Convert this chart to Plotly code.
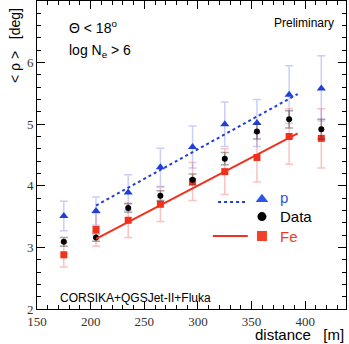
import plotly.graph_objects as go

# ---------------- data ----------------
distance = [175, 205, 235, 265, 295, 325, 355, 385, 415]
p_mean = [3.51, 3.59, 3.89, 4.30, 4.63, 5.00, 5.02, 5.48, 5.58]
p_err = [0.24, 0.23, 0.29, 0.31, 0.34, 0.36, 0.38, 0.47, 0.53]
data_mean = [3.09, 3.16, 3.64, 3.84, 4.10, 4.44, 4.88, 5.08, 4.92]
data_err = [0.07, 0.06, 0.07, 0.08, 0.09, 0.10, 0.12, 0.14, 0.16]
fe_mean = [2.88, 3.29, 3.44, 3.70, 4.07, 4.23, 4.46, 4.80, 4.77]
fe_err = [0.20, 0.27, 0.28, 0.28, 0.31, 0.37, 0.40, 0.45, 0.48]

fit_x = [205, 393]
p_fit = [3.68, 5.49]
fe_fit = [3.14, 4.85]

x_ticks = [150, 200, 250, 300, 350, 400]
y_ticks = [2, 3, 4, 5, 6]

BLUE = "#1f3fd8"
RED = "#f2301e"
SANS = "Liberation Sans, Arial, sans-serif"
SERIF = "Liberation Serif, Times New Roman, serif"

fig = go.Figure()

# error bars + markers
fig.add_trace(go.Scatter(
    x=distance, y=fe_mean, mode="markers",
    marker=dict(symbol="square", size=7, color=RED),
    error_y=dict(type="data", array=fe_err, color="rgba(240,70,70,0.33)", thickness=1.5, width=4),
    showlegend=False))
fig.add_trace(go.Scatter(
    x=distance, y=p_mean, mode="markers",
    marker=dict(symbol="triangle-up", size=8, color=BLUE),
    error_y=dict(type="data", array=p_err, color="rgba(90,110,230,0.33)", thickness=1.5, width=4),
    showlegend=False))
fig.add_trace(go.Scatter(
    x=distance, y=data_mean, mode="markers",
    marker=dict(symbol="circle", size=6, color="black"),
    error_y=dict(type="data", array=data_err, color="rgba(60,60,60,0.45)", thickness=1.5, width=4),
    showlegend=False))

# fit lines
fig.add_trace(go.Scatter(x=fit_x, y=p_fit, mode="lines",
                         line=dict(color=BLUE, width=2, dash="3px,3px"), showlegend=False))
fig.add_trace(go.Scatter(x=fit_x, y=fe_fit, mode="lines",
                         line=dict(color=RED, width=2), showlegend=False))

# hand-made legend on an overlay axis (0..1 = plot area)
fig.add_trace(go.Scatter(x=[0.586, 0.673], y=[0.347, 0.347], mode="lines", xaxis="x2", yaxis="y2",
                         line=dict(color=BLUE, width=2, dash="3px,3px"), showlegend=False))
fig.add_trace(go.Scatter(x=[0.569, 0.682], y=[0.237, 0.237], mode="lines", xaxis="x2", yaxis="y2",
                         line=dict(color=RED, width=2), showlegend=False))
fig.add_trace(go.Scatter(x=[0.728], y=[0.356], mode="markers", xaxis="x2", yaxis="y2",
                         marker=dict(symbol="triangle-up", size=11, color="#2a55e8"), showlegend=False))
fig.add_trace(go.Scatter(x=[0.728], y=[0.30], mode="markers", xaxis="x2", yaxis="y2",
                         marker=dict(symbol="circle", size=9, color="black"), showlegend=False))
fig.add_trace(go.Scatter(x=[0.728], y=[0.237], mode="markers", xaxis="x2", yaxis="y2",
                         marker=dict(symbol="square", size=10, color="#f5402a"), showlegend=False))

ann = [
    dict(text="p", x=0.78, y=0.362, xanchor="left", yanchor="middle", font=dict(size=15, color="#3050e0")),
    dict(text="Data", x=0.78, y=0.300, xanchor="left", yanchor="middle", font=dict(size=15, color="black")),
    dict(text="Fe", x=0.78, y=0.237, xanchor="left", yanchor="middle", font=dict(size=15, color="#f03a22")),
    dict(text="\u0398 < 18<sup>o</sup>", x=0.097, y=0.916, xanchor="left", yanchor="middle",
         font=dict(size=14, color="black")),
    dict(text="log N<sub>e</sub> > 6", x=0.097, y=0.838, xanchor="left", yanchor="middle",
         font=dict(size=14, color="black")),
    dict(text="Preliminary", x=0.76, y=0.929, xanchor="left", yanchor="middle",
         font=dict(size=12, color="black")),
    dict(text="CORSIKA+QGSJet-II+Fluka", x=0.068, y=0.036, xanchor="left", yanchor="middle",
         font=dict(size=12, color="black")),
    dict(text="distance   [m]", x=1.0, y=-0.083, xanchor="right", yanchor="middle",
         font=dict(size=15, color="black")),
    dict(text="< \u03c1 >   [deg]", x=-0.071, y=0.854, xanchor="center", yanchor="middle", textangle=-90,
         font=dict(size=14, color="black")),
]
for a in ann:
    a.update(xref="paper", yref="paper", showarrow=False)
    a["font"]["family"] = SANS

axis_common = dict(
    showline=True, linecolor="black", linewidth=1, mirror="allticks",
    ticks="inside", ticklen=8, tickcolor="black", tickwidth=1,
    showgrid=False, zeroline=False,
    tickfont=dict(family=SERIF, size=13, color="#333"),
)

fig.update_layout(
    width=349, height=344,
    margin=dict(l=37, r=3, t=1, b=35),
    paper_bgcolor="white", plot_bgcolor="white",
    xaxis=dict(range=[150, 438], tickvals=x_ticks,
               minor=dict(dtick=10, ticklen=4, ticks="inside", tickcolor="black"),
               **axis_common),
    yaxis=dict(range=[2, 7], tickvals=y_ticks,
               minor=dict(dtick=0.2, ticklen=4, ticks="inside", tickcolor="black"),
               **axis_common),
    xaxis2=dict(range=[0, 1], overlaying="x", visible=False),
    yaxis2=dict(range=[0, 1], overlaying="y", visible=False),
    annotations=ann,
    showlegend=False,
)

fig.write_html("out.html", config={"displayModeBar": False},
               post_script="document.body.style.margin='0';document.body.style.overflow='hidden';")
